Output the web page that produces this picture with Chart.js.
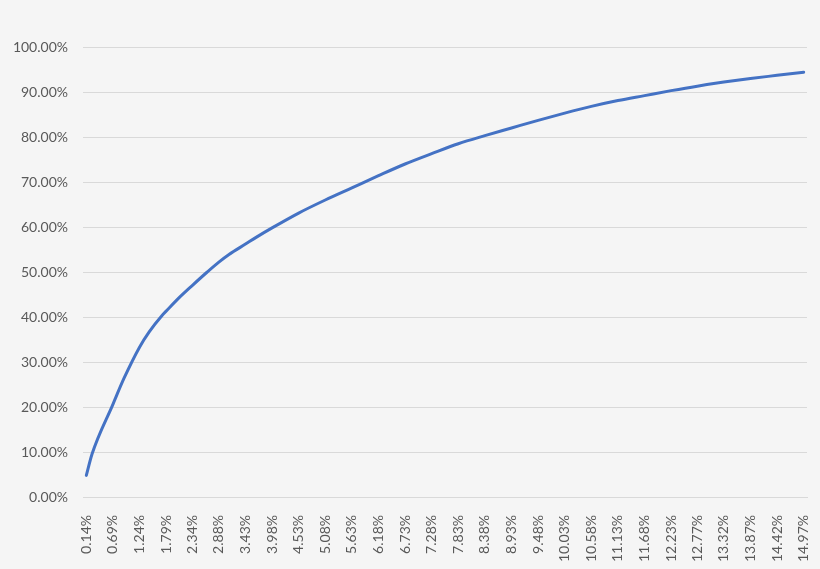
<!DOCTYPE html>
<html>
<head>
<meta charset="utf-8">
<script src="https://cdn.jsdelivr.net/npm/chart.js@4"></script>
<style>
  html, body { margin: 0; padding: 0; background: #f5f5f5; }
  #wrap { width: 820px; height: 569px; }
</style>
</head>
<body>
<div id="wrap"><canvas id="myChart" width="820" height="569"></canvas></div>
<script>
// valeurs (x en %, y en %)
let xValues = [0.14, 0.26, 0.69, 0.92, 1.24, 1.44, 1.71, 1.79, 2.06, 2.34, 2.64, 2.88, 3.09, 3.43, 3.65, 3.98,
    4.53, 5.08, 5.63, 6.18, 6.73, 7.28, 7.83, 8.38, 8.93, 9.48, 10.03, 10.58, 11.13, 11.68, 12.23, 12.77,
    13.32, 13.87, 14.42, 14.97];
let yValues = [4.8, 9.6, 20.6, 26.4, 33.3, 36.7, 40.4, 41.3, 44.3, 47.1, 50.0, 52.2, 53.9, 56.2, 57.7, 59.8,
    63.1, 66.0, 68.7, 71.4, 74.0, 76.3, 78.5, 80.3, 82.0, 83.7, 85.3, 86.8, 88.1, 89.2, 90.3, 91.3,
    92.2, 93.0, 93.7, 94.4];

// graduations de l'axe x
let tickValues = [0.14, 0.69, 1.24, 1.79, 2.34, 2.88, 3.43, 3.98, 4.53, 5.08, 5.63, 6.18, 6.73, 7.28,
    7.83, 8.38, 8.93, 9.48, 10.03, 10.58, 11.13, 11.68, 12.23, 12.77, 13.32, 13.87, 14.42, 14.97];
let tickLabels = ['0.14%', '0.69%', '1.24%', '1.79%', '2.34%', '2.88%', '3.43%', '3.98%', '4.53%', '5.08%',
    '5.63%', '6.18%', '6.73%', '7.28%', '7.83%', '8.38%', '8.93%', '9.48%', '10.03%', '10.58%', '11.13%',
    '11.68%', '12.23%', '12.77%', '13.32%', '13.87%', '14.42%', '14.97%'];

let halfStep = 0.0687; // demi-catégorie (style Excel)

let points = xValues.map((x, i) => ({ x: x, y: yValues[i] }));

let ctx = document.getElementById('myChart').getContext('2d');
let chart = new Chart(ctx, {
    type: 'line',
    data: {
        datasets: [{
            data: points,
            borderColor: '#4472c4',
            borderWidth: 3,
            borderCapStyle: 'round',
            borderJoinStyle: 'round',
            pointRadius: 0,
            cubicInterpolationMode: 'monotone',
            fill: false
        }]
    },
    options: {
        responsive: false,
        animation: false,
        layout: { padding: { left: 0, right: 13, top: 47, bottom: 0 } },
        plugins: {
            legend: { display: false },
            tooltip: { enabled: false }
        },
        scales: {
            x: {
                type: 'linear',
                min: tickValues[0] - halfStep,
                max: tickValues[tickValues.length - 1] + halfStep,
                afterBuildTicks: axis => { axis.ticks = tickValues.map(v => ({ value: v })); },
                afterFit: axis => {
                    axis.height = 72;
                    axis.paddingLeft = 0;
                    axis.paddingRight = 0;
                },
                grid: { display: false },
                border: { display: true, color: '#d9d9d9', width: 1 },
                ticks: {
                    autoSkip: false,
                    minRotation: 90,
                    maxRotation: 90,
                    padding: 10,
                    color: '#595959',
                    font: { family: 'Lato', size: 14 },
                    callback: (value, index) => tickLabels[index]
                }
            },
            y: {
                min: 0,
                max: 100,
                afterFit: axis => { axis.width = 83; },
                grid: { color: '#d9d9d9', lineWidth: 1, drawTicks: false },
                border: { display: false },
                ticks: {
                    stepSize: 10,
                    padding: 15,
                    color: '#595959',
                    font: { family: 'Lato', size: 14 },
                    callback: value => value.toFixed(2) + '%'
                }
            }
        }
    }
});
</script>
</body>
</html>
